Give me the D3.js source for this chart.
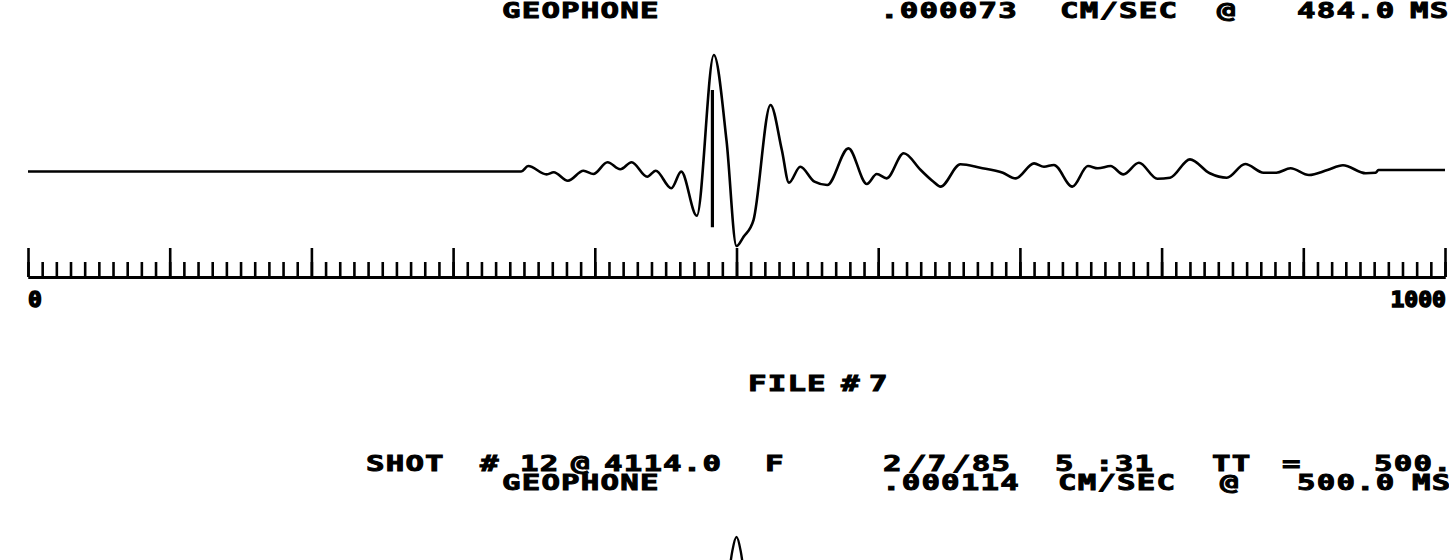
<!DOCTYPE html>
<html>
<head>
<meta charset="utf-8">
<script src="https://cdn.jsdelivr.net/npm/d3@7"></script>
<style>
  html, body { margin: 0; padding: 0; background: #fff; }
  svg { display: block; }
  .lbl { font-family: "DejaVu Sans Mono", monospace; font-weight: bold; fill: #000; stroke: #000; white-space: pre; }
</style>
</head>
<body>
<div id="chart"></div>
<script>
// trace of file 6 (geophone), time in ms, amplitude in 1e-6 cm/sec
var timesMs = [0, 345, 348, 353, 366, 371, 381, 392, 399, 409, 418, 426, 437, 443, 454, 461, 472, 484, 493, 500,
    505, 512, 524, 532, 537, 545, 555, 564, 579, 592, 599, 606, 618, 630, 639, 644, 658, 672, 688, 697,
    710, 717, 724, 737, 748, 755, 764, 773, 784, 797, 806, 820, 834, 846, 859, 872, 881, 891, 904, 917,
    928, 944, 951, 953, 1000];
var amplitude = [0, 0, 0, 3.4, -1.8, -0.5, -5.8, 0.5, -1.6, 5.8, 1.4, 5.8, -3.3, 0.5, -10.5, -0.1, -27.7, 73, 19, -46.7,
    -40.9, -30.4, 41.7, 13.5, -7.0, 3.0, -6.4, -8.5, 14.5, -7.8, -1.6, -4.3, 11.4, 0.9, -6.4, -9.5, 4.5, 2.4, -0.8, -4.3,
    5.1, 3.0, 4.1, -9.5, 3.4, 2.0, 3.4, -1.8, 5.5, -4.5, -3.9, 7.6, -1.1, -3.9, 4.7, -0.8, -0.8, 2.0, -2.2, 0.9,
    3.9, -1.1, -0.8, 0.9, 0.9];
var peakMarkTime = 483;
var peakMarkRange = [-35, 51];

// tip of next trace (file 7), only the top of its peak is on the page
var nextTimesMs = [494, 497, 500, 503, 506];
var nextAmplitude = [70, 100, 114, 100, 70];

var minorTicks = d3.range(0, 1001, 10);
var majorTicks = d3.range(0, 1001, 100);
var axisEnds = ["0", "1000"];

var topRow = ["GEOPHONE", ".000073", "CM/SEC", "@", "484.0", "MS"];
var fileRow = ["FILE", "#", "7"];
var shotRow = ["SHOT", "#", "12", "@", "4114.0", "F", "2", "/7", "/85", "5", ":31", "TT", "=", "500."];
var geoRow = ["GEOPHONE", ".000114", "CM/SEC", "@", "500.0", "MS"];

// layout
var W = 1449, H = 560;
var topRowX = [502, 880, 1060, 1217, 1297, 1410];
var fileRowX = [748, 841, 869];
var shotRowX = [366, 480, 520, 571, 604, 765, 883, 908, 952, 1055, 1095, 1212, 1282, 1374];
var geoRowX = [502, 882, 1058, 1220, 1297, 1412];

var svg = d3.select("#chart").append("svg").attr("width", W).attr("height", H);

var x = d3.scaleLinear().domain([0, 1000]).range([28, 1445]);
var y = d3.scaleLinear().domain([0, 73]).range([171.5, 55]);
var y2 = d3.scaleLinear().domain([0, 114]).range([654, 537]);

var trace = timesMs.map(function(t, i) { return [t, amplitude[i]]; });
var nextTrace = nextTimesMs.map(function(t, i) { return [t, nextAmplitude[i]]; });

var line = d3.line().x(function(d) { return x(d[0]); }).y(function(d) { return y(d[1]); }).curve(d3.curveMonotoneX);
var line2 = d3.line().x(function(d) { return x(d[0]); }).y(function(d) { return y2(d[1]); }).curve(d3.curveMonotoneX);

svg.append("path").datum(trace).attr("d", line)
    .attr("fill", "none").attr("stroke", "#000").attr("stroke-width", 2.6).attr("stroke-linejoin", "round");
svg.append("line")
    .attr("x1", x(peakMarkTime)).attr("x2", x(peakMarkTime))
    .attr("y1", y(peakMarkRange[0])).attr("y2", y(peakMarkRange[1]))
    .attr("stroke", "#000").attr("stroke-width", 3.2);
svg.append("path").datum(nextTrace).attr("d", line2)
    .attr("fill", "none").attr("stroke", "#000").attr("stroke-width", 2.4);

// time ruler
var ruler = svg.append("g").attr("transform", "translate(0,277)");
ruler.append("g").call(d3.axisTop(x).tickValues(minorTicks).tickSize(15).tickSizeOuter(0).tickFormat(""));
ruler.append("g").call(d3.axisTop(x).tickValues(majorTicks).tickSize(29).tickSizeOuter(0).tickFormat(""));
ruler.selectAll(".domain").attr("stroke", "#000").attr("stroke-width", 3);
ruler.selectAll(".tick line").attr("stroke", "#000").attr("stroke-width", 2.6);

svg.append("text").attr("class", "lbl").attr("font-size", 21).attr("stroke-width", 1.4)
    .attr("transform", "translate(" + x(0) + ",307) scale(1.1,1)").text(axisEnds[0]);
svg.append("text").attr("class", "lbl").attr("font-size", 21).attr("stroke-width", 1.4).attr("text-anchor", "end")
    .attr("transform", "translate(" + (x(1000) + 1) + ",307) scale(1.1,1)").text(axisEnds[1]);

function textRow(words, xs, baseline) {
    svg.append("g").selectAll("text").data(words).enter().append("text")
        .attr("class", "lbl").attr("font-size", 20.5).attr("letter-spacing", 0.8).attr("stroke-width", 0.9)
        .attr("transform", function(d, i) { return "translate(" + xs[i] + "," + baseline + ") scale(1.5,1)"; })
        .text(function(d) { return d; });
}
textRow(topRow, topRowX, 18);
textRow(fileRow, fileRowX, 391);
textRow(shotRow, shotRowX, 471);
textRow(geoRow, geoRowX, 490);
</script>
</body>
</html>
